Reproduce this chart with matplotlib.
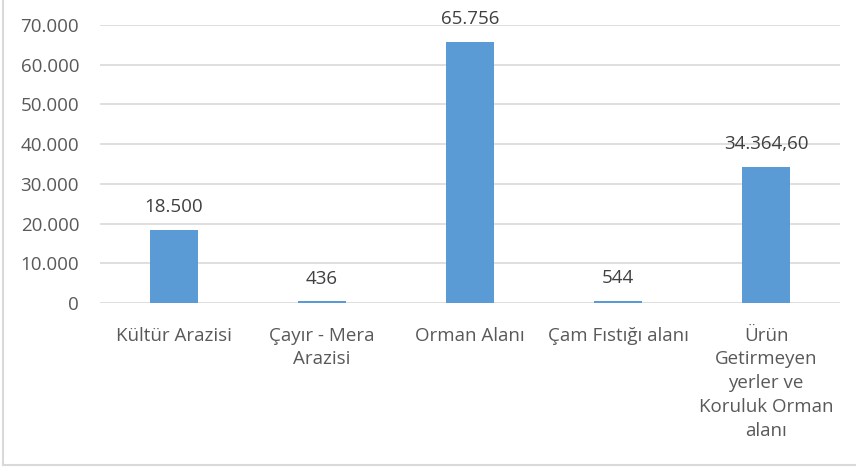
import matplotlib.pyplot as plt
from matplotlib.lines import Line2D

categories = ["Kültür Arazisi", "Çayır - Mera\nArazisi", "Orman Alanı",
              "Çam Fıstığı alanı", "Ürün\nGetirmeyen\nyerler ve\nKoruluk Orman\nalanı"]
values = [18500, 436, 65756, 544, 34364.6]
value_labels = ["18.500", "436", "65.756", "544", "34.364,60"]
yticks = [0, 10000, 20000, 30000, 40000, 50000, 60000, 70000]
ytick_labels = ["0", "10.000", "20.000", "30.000", "40.000", "50.000", "60.000", "70.000"]

plt.rcParams['font.family'] = ['Open Sans', 'DejaVu Sans']
txt = '#595959'
grid = '#d9d9d9'

fig = plt.figure(figsize=(8.56, 4.68), dpi=100)
ax = fig.add_axes([100/856, 1 - 303/468, 740/856, 278/468])

x = range(len(categories))
ax.bar(x, values, width=0.32, color='#5B9BD5', zorder=3)
for i, (v, lab) in enumerate(zip(values, value_labels)):
    ax.annotate(lab, (i, v), xytext=(0, 12.5), textcoords='offset points',
                ha='center', va='baseline', fontsize=13.5, color='#404040')

ax.set_xlim(-0.5, len(categories) - 0.5)
ax.set_ylim(0, 70000)
ax.set_yticks(yticks)
ax.set_yticklabels(ytick_labels)
ax.set_xticks(list(x))
ax.set_xticklabels(categories, linespacing=1.42)
ax.tick_params(axis='both', length=0, labelsize=13.5, labelcolor=txt)
ax.tick_params(axis='y', pad=15)
ax.tick_params(axis='x', pad=17)
ax.yaxis.grid(True, color=grid, linewidth=1.2, zorder=0)
for s in ax.spines.values():
    s.set_visible(False)

# outer chart border (left and bottom visible)
fig.add_artist(Line2D([3.5/856, 3.5/856], [1, 3/468], transform=fig.transFigure,
                      color=grid, linewidth=1.5))
fig.add_artist(Line2D([3.5/856, 1], [3/468, 3/468], transform=fig.transFigure,
                      color=grid, linewidth=1.5))

fig.savefig('out.png', dpi=100)
